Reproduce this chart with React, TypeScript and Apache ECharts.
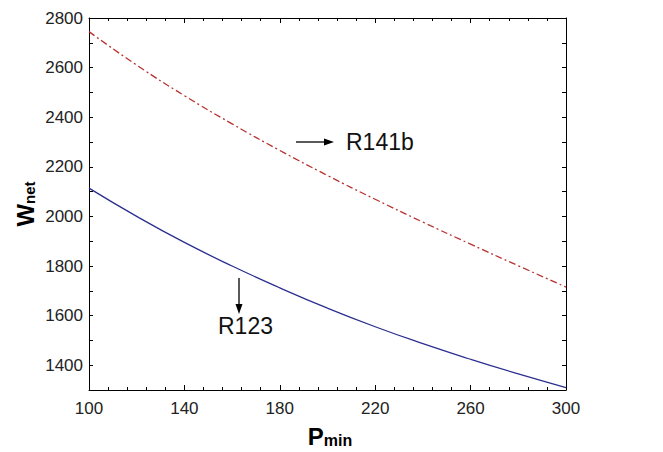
import React, { useEffect, useRef } from "react";
import * as echarts from "echarts";

const pMin = [100, 120, 140, 160, 180, 200, 220, 240, 260, 280, 300];
const wR141b = [2745, 2610, 2487, 2373, 2266, 2165, 2069, 1977, 1888, 1801, 1715];
const wR123 = [2114, 2000, 1895, 1800, 1712, 1630, 1555, 1487, 1424, 1365, 1310];
const xTicks = { min: 100, max: 300, interval: 40 };
const yTicks = { min: 1300, max: 2800, interval: 100, labelStep: 200 };

const FONT = "Liberation Sans, Arial, sans-serif";

export default function App() {
  const ref = useRef<HTMLDivElement>(null);
  useEffect(() => {
    if (!ref.current) return;
    const chart = echarts.init(ref.current, undefined, { renderer: "svg" });
    const axisLine = { show: true, lineStyle: { color: "#000", width: 1 } };
    const baseX = {
      type: "value",
      min: xTicks.min,
      max: xTicks.max,
      interval: xTicks.interval,
      splitLine: { show: false },
      axisLine,
      axisTick: { show: true, inside: true, length: 5, lineStyle: { color: "#000" } },
      minorTick: { show: true, splitNumber: 5, length: 3, lineStyle: { color: "#000" } },
    };
    const baseY = {
      type: "value",
      min: yTicks.min,
      max: yTicks.max,
      interval: yTicks.interval,
      splitLine: { show: false },
      axisLine,
      axisTick: { show: true, inside: true, length: 4, lineStyle: { color: "#000" } },
    };
    chart.setOption({
      animation: false,
      backgroundColor: "#fff",
      grid: { left: 89, right: 97, top: 18, bottom: 62, containLabel: false },
      xAxis: [
        {
          ...baseX,
          position: "bottom",
          axisLabel: { show: true, color: "#222", fontSize: 17, fontFamily: FONT, margin: 10 },
        },
        { ...baseX, position: "top", axisLabel: { show: false } },
      ],
      yAxis: [
        {
          ...baseY,
          position: "left",
          axisLabel: {
            show: true,
            color: "#222",
            fontSize: 17,
            fontFamily: FONT,
            margin: 6,
            formatter: (v: number) => (v % yTicks.labelStep === 0 ? String(v) : ""),
          },
        },
        { ...baseY, position: "right", axisLabel: { show: false } },
      ],
      series: [
        {
          type: "line",
          name: "R141b",
          data: pMin.map((p, i) => [p, wR141b[i]]),
          smooth: true,
          showSymbol: false,
          lineStyle: { color: "#b8312f", width: 1.3, type: [7, 3, 2, 3] },
        },
        {
          type: "line",
          name: "R123",
          data: pMin.map((p, i) => [p, wR123[i]]),
          smooth: true,
          showSymbol: false,
          lineStyle: { color: "#2b2f8f", width: 1.3, type: "solid" },
        },
      ],
      graphic: [
        {
          type: "text",
          x: 25,
          y: 204,
          rotation: Math.PI / 2,
          style: {
            text: "{a|W}{b|net}",
            fill: "#000",
            align: "center",
            verticalAlign: "middle",
            rich: {
              a: { fontSize: 24, fontWeight: "bold", fontFamily: FONT, fill: "#000" },
              b: { fontSize: 15, fontWeight: "bold", fontFamily: FONT, fill: "#000", padding: [8, 0, 0, 0] },
            },
          },
        },
        {
          type: "text",
          x: 330,
          y: 436,
          style: {
            text: "{a|P}{b|min}",
            fill: "#000",
            align: "center",
            verticalAlign: "middle",
            rich: {
              a: { fontSize: 24, fontWeight: "bold", fontFamily: FONT, fill: "#000" },
              b: { fontSize: 16, fontWeight: "bold", fontFamily: FONT, fill: "#000", padding: [8, 0, 0, 0] },
            },
          },
        },
        {
          type: "line",
          shape: { x1: 296, y1: 142, x2: 326, y2: 142 },
          style: { stroke: "#000", lineWidth: 1.3 },
        },
        {
          type: "polygon",
          shape: { points: [[334, 142], [324, 138.5], [324, 145.5]] },
          style: { fill: "#000" },
        },
        {
          type: "text",
          x: 346,
          y: 142,
          style: { text: "R141b", fontSize: 23, fontFamily: FONT, fill: "#111", verticalAlign: "middle" },
        },
        {
          type: "line",
          shape: { x1: 239, y1: 278, x2: 239, y2: 306 },
          style: { stroke: "#000", lineWidth: 1.3 },
        },
        {
          type: "polygon",
          shape: { points: [[239, 314], [235.5, 304], [242.5, 304]] },
          style: { fill: "#000" },
        },
        {
          type: "text",
          x: 218,
          y: 326,
          style: { text: "R123", fontSize: 23, fontFamily: FONT, fill: "#111", verticalAlign: "middle" },
        },
      ],
    });
    return () => chart.dispose();
  }, []);
  return (
    <div
      ref={ref}
      style={{ position: "fixed", left: 0, top: 0, width: 663, height: 452, background: "#fff" }}
    />
  );
}
